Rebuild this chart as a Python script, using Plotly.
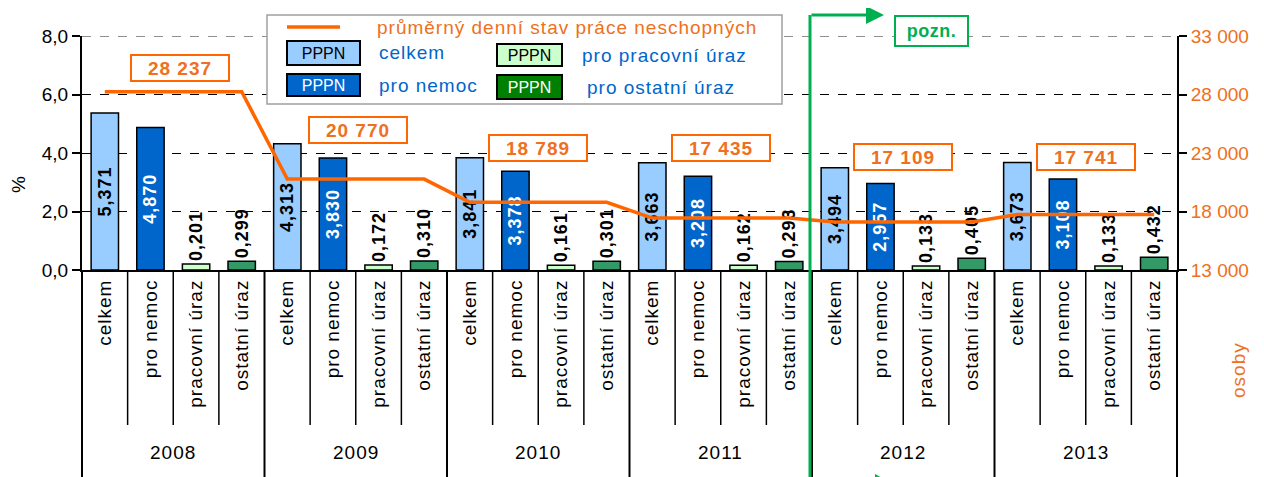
import plotly.graph_objects as go

years = ["2008", "2009", "2010", "2011", "2012", "2013"]
categories = ["celkem", "pro nemoc", "pracovní úraz", "ostatní úraz"]
celkem = [5.371, 4.313, 3.841, 3.663, 3.494, 3.673]
pro_nemoc = [4.870, 3.830, 3.378, 3.208, 2.957, 3.108]
pracovni_uraz = [0.201, 0.172, 0.161, 0.162, 0.133, 0.133]
ostatni_uraz = [0.299, 0.310, 0.301, 0.293, 0.405, 0.432]
denni_stav = [28237, 20770, 18789, 17435, 17109, 17741]

FONT = "Liberation Sans, Arial, sans-serif"
ORANGE = "#FF6600"
ORANGE_T = "#EE7020"
BLUE_T = "#0066CC"
GREEN = "#00B050"

ncat = len(categories)
n = len(years) * ncat

# page body has an 8px margin; geometry below is in screenshot pixels
OFF = 8
W, H = 1264 - OFF, 477 - OFF
L, T = 82 - OFF, 36 - OFF
R, B = 87, 207
PW, PH = W - L - R, H - T - B
def px(X):
    return (X - OFF - L) / PW
def py(Y):
    return (H - B - (Y - OFF)) / PH

def sp(s, ls=1):
    return f'<span style="letter-spacing:{ls}px">{s}</span>'

def fmt(v):
    return f"{v:.3f}".replace(".", ",")

fig = go.Figure()

series = [
    (celkem, "#99CCFF", "black", "inside"),
    (pro_nemoc, "#0066CC", "white", "inside"),
    (pracovni_uraz, "#CCFFCC", "black", "outside"),
    (ostatni_uraz, "#339966", "black", "outside"),
]
for k, (vals, color, tcolor, tpos) in enumerate(series):
    xs = [i * ncat + k for i in range(len(years))]
    fig.add_trace(go.Bar(
        x=xs, y=vals, width=0.6,
        marker=dict(color=color, line=dict(color="black", width=1.5)),
        text=[sp(fmt(v)) for v in vals], textposition=tpos, textangle=-90,
        insidetextanchor="middle",
        textfont=dict(family=FONT, size=18, color=tcolor, weight="bold"),
        outsidetextfont=dict(family=FONT, size=18, color="black", weight="bold"),
        constraintext="none", cliponaxis=False, showlegend=False,
    ))

line_x = list(range(n))
line_y = [v for v in denni_stav for _ in range(ncat)]
fig.add_trace(go.Scatter(
    x=line_x, y=line_y, yaxis="y2", mode="lines",
    line=dict(color=ORANGE, width=3.5), showlegend=False,
))

shapes = []
annotations = []

def ann(**kw):
    kw.setdefault("showarrow", False)
    kw.setdefault("xanchor", "center")
    kw.setdefault("yanchor", "middle")
    annotations.append(kw)

# grey dashed top line at 8,0
shapes.append(dict(type="line", xref="paper", yref="y", x0=0, x1=1, y0=8, y1=8,
                   line=dict(color="#909090", width=2, dash="dash")))

# dividers below axis
for b in range(n + 1):
    full = (b % ncat == 0)
    shapes.append(dict(type="line", xref="paper", yref="paper",
                       x0=b / n, x1=b / n, y0=0,
                       y1=py(482) if full else py(425),
                       line=dict(color="black", width=2 if full else 1.5)))

# year labels
for i, yr in enumerate(years):
    ann(x=i * ncat + 1.5, y=py(452), xref="x", yref="paper", text=sp(yr),
        font=dict(family=FONT, size=19, color="black"))

# line value labels
label_pos = [(1.65, 30265), (5.55, 24966), (9.5, 23427), (13.5, 23427), (17.5, 22658), (21.5, 22658)]
for (lx, ly), v in zip(label_pos, denni_stav):
    ann(x=lx, y=ly, xref="x", yref="y2", text=sp(f"{v:,}".replace(",", " ")),
        font=dict(family=FONT, size=19, color=ORANGE_T, weight="bold"),
        bgcolor="white", bordercolor=ORANGE, borderwidth=2, width=94, height=22)

# legend box
shapes.append(dict(type="rect", xref="paper", yref="paper",
                   x0=px(267), x1=px(782), y0=py(104), y1=py(15),
                   fillcolor="white", line=dict(color="#A0A0A0", width=1.5)))
shapes.append(dict(type="line", xref="paper", yref="paper",
                   x0=px(287), x1=px(340), y0=py(27), y1=py(27),
                   line=dict(color=ORANGE, width=3.5)))
ann(x=px(375), y=py(28), xref="paper", yref="paper", xanchor="left",
    text=sp("průměrný denní stav práce neschopných"),
    font=dict(family=FONT, size=19, color=ORANGE_T))
leg_items = [
    (323.5, 53, 69, 20, "#99CCFF", "black", "celkem", 377),
    (323.5, 85, 69, 18, "#0066CC", "white", "pro nemoc", 377),
    (529.5, 55, 61, 18, "#CCFFCC", "black", "pro pracovní úraz", 580),
    (529.5, 87, 61, 20, "#008000", "white", "pro ostatní úraz", 585),
]
for cx, cy, w, h, fill, tcol, lab, tx in leg_items:
    ann(x=px(cx), y=py(cy), xref="paper", yref="paper", text="PPPN",
        font=dict(family=FONT, size=16, color=tcol),
        bgcolor=fill, bordercolor="black", borderwidth=2, width=w, height=h)
    ann(x=px(tx), y=py(cy), xref="paper", yref="paper", xanchor="left",
        text=sp(lab), font=dict(family=FONT, size=19, color=BLUE_T))

# pozn. marker
shapes.append(dict(type="line", xref="paper", yref="paper",
                   x0=px(810), x1=px(810), y0=py(492), y1=py(15),
                   line=dict(color=GREEN, width=3)))
annotations.append(dict(x=px(884), y=py(15), xref="paper", yref="paper",
                        ax=-74, ay=0, text="", showarrow=True, arrowhead=2,
                        arrowsize=1.2, arrowwidth=3, arrowcolor=GREEN))
# tip of the lower (cut-off) arrow
shapes.append(dict(type="path", xref="paper", yref="paper",
                   path=f"M {px(875)},{py(474)} L {px(893)},{py(484)} L {px(875)},{py(494)} Z",
                   fillcolor=GREEN, line=dict(width=0)))
ann(x=px(931), y=py(31), xref="paper", yref="paper", text=sp("pozn.", 0.5),
    font=dict(family=FONT, size=18, color=GREEN, weight="bold"),
    bgcolor="white", bordercolor=GREEN, borderwidth=2, width=69, height=26)

# axis titles
ann(x=px(18), y=py(185), xref="paper", yref="paper", text="%", textangle=-90,
    font=dict(family=FONT, size=19, color="black"))
ann(x=px(1238), y=py(370), xref="paper", yref="paper", text=sp("osoby"), textangle=-90,
    font=dict(family=FONT, size=19, color=ORANGE_T))

fig.update_layout(
    width=W, height=H,
    margin=dict(l=L, r=R, t=T, b=B, autoexpand=False),
    paper_bgcolor="white", plot_bgcolor="white",
    separators=", ",
    barmode="overlay",
    font=dict(family=FONT, size=18, color="black"),
    xaxis=dict(range=[-0.5, n - 0.5], tickvals=list(range(n)),
               ticktext=[sp(c) for c in categories * len(years)], tickangle=-90,
               tickfont=dict(family=FONT, size=19, color="black"),
               showline=True, linecolor="black", linewidth=2,
               showgrid=False, zeroline=False, ticks="", automargin=False),
    yaxis=dict(range=[0, 8], dtick=2, tickformat=".1f",
               showgrid=True, gridcolor="black", gridwidth=1, griddash="dash",
               zeroline=False, showline=True, linecolor="black", linewidth=2,
               ticks="outside", ticklen=8, tickcolor="black", tickwidth=1.5,
               tickfont=dict(family=FONT, size=19, color="black"), automargin=False),
    yaxis2=dict(range=[13000, 33000], tick0=13000, dtick=5000, tickformat=",d",
                overlaying="y", side="right", showgrid=False, zeroline=False,
                showline=True, linecolor="black", linewidth=2,
                ticks="outside", ticklen=8, tickcolor="black", tickwidth=1.5,
                tickfont=dict(family=FONT, size=19, color=ORANGE_T), automargin=False),
    shapes=shapes, annotations=annotations,
)

fig.write_html("out.html")
